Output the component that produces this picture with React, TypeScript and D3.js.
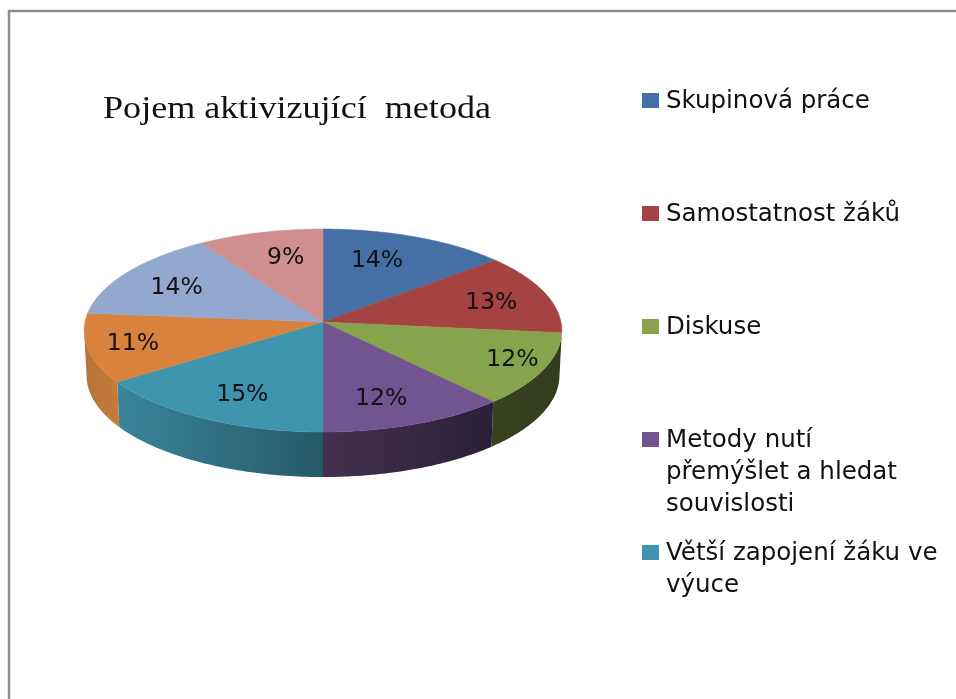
import { useRef, useEffect } from 'react';
import * as d3 from 'd3';

const shares = [13.8, 12.9, 11.6, 11.7, 15.4, 11.0, 14.4, 9.2];
const shareLabels = ['14%', '13%', '12%', '12%', '15%', '11%', '14%', '9%'];
const topColors = ['#4570a6', '#a54342', '#87a44c', '#725490', '#3f95ae', '#d8823d', '#93a8cf', '#cf8f8f'];
const wallLeft = ['#000', '#000', '#38421f', '#44304f', '#3a8599', '#b5743a', '#000', '#000'];
const wallRight = ['#000', '#000', '#333d1e', '#2a2038', '#265a68', '#c67c3a', '#000', '#000'];
const legendLines = [
  ['Skupinová práce'],
  ['Samostatnost žáků'],
  ['Diskuse'],
  ['Metody nutí', 'přemýšlet a hledat', 'souvislosti'],
  ['Větší zapojení žáku ve', 'výuce'],
];

export default function App() {
  const svgRef = useRef<SVGSVGElement>(null);

  useEffect(() => {
    const width = 956;
    const height = 699;
    const cx = 323;
    const cy = 322;
    const R = 238;
    const K = 100.8;
    const p = 0.0838; // perspective of the tilted disc
    const depth = 45;
    const wallEnd = (265 * Math.PI) / 180; // left silhouette of the disc
    // the labels don't sit on a clean radius in the original
    const labelNudge = [-16, 3, 28, -9, 6, -17, 0, 10];

    const svg = d3.select(svgRef.current);
    svg.selectAll('*').remove();

    // page frame, open to the right and at the bottom
    svg.append('path')
      .attr('d', `M9,${height} V11 H${width}`)
      .attr('fill', 'none')
      .attr('stroke', '#8c8c8c')
      .attr('stroke-width', 2.5);

    const project = (theta: number, r = 1, drop = 0) => {
      const u = r * Math.sin(theta);
      const v = -r * Math.cos(theta);
      const w = 1 - p * v;
      const shrink = drop ? 0.99 : 1;
      return [cx + (R * shrink * u) / w, cy + (K * v) / w + drop] as [number, number];
    };

    const arcs = d3.pie<number>().sort(null)(shares);
    const line = d3.line();
    const rim = (a0: number, a1: number, drop = 0) =>
      d3.range(0, 61).map(i => project(a0 + ((a1 - a0) * i) / 60, 1, drop));

    const defs = svg.append('defs');
    arcs.forEach((d, i) => {
      const g = defs.append('linearGradient').attr('id', `wall${i}`);
      g.append('stop').attr('offset', 0).attr('stop-color', wallLeft[i]);
      g.append('stop').attr('offset', 1).attr('stop-color', wallRight[i]);
    });

    // front walls first, top faces over them
    arcs.forEach((d, i) => {
      const mid = (d.startAngle + d.endAngle) / 2;
      if (mid < Math.PI / 2 || mid > (3 * Math.PI) / 2) return;
      const end = Math.min(d.endAngle, wallEnd);
      const pts = [...rim(d.startAngle, end), ...rim(d.startAngle, end, depth).reverse()];
      svg.append('path')
        .attr('d', line(pts) + 'Z')
        .attr('fill', `url(#wall${i})`);
    });

    arcs.forEach((d, i) => {
      const pts: [number, number][] = [[cx, cy], ...rim(d.startAngle, d.endAngle)];
      svg.append('path')
        .attr('d', line(pts) + 'Z')
        .attr('fill', topColors[i])
        .attr('stroke', topColors[i])
        .attr('stroke-width', 0.5);
    });

    arcs.forEach((d, i) => {
      const mid = (d.startAngle + d.endAngle) / 2;
      const [x, y] = project(mid, 0.74);
      svg.append('text')
        .attr('x', x + labelNudge[i])
        .attr('y', y + 9)
        .attr('text-anchor', 'middle')
        .attr('font-family', '"DejaVu Sans", sans-serif')
        .attr('font-size', 23.5)
        .attr('fill', '#111')
        .text(shareLabels[i]);
    });

    svg.append('text')
      .attr('x', 103)
      .attr('y', 118)
      .style('white-space', 'pre')
      .attr('textLength', 388)
      .attr('lengthAdjust', 'spacingAndGlyphs')
      .attr('font-family', '"Liberation Serif", serif')
      .attr('font-size', 32)
      .attr('fill', '#111')
      .text('Pojem aktivizující  metoda');

    // legend: rows sit on a fixed step, extra lines of a row hang below
    const legendY = d3.scalePoint<number>()
      .domain(d3.range(legendLines.length))
      .range([100, 552]);

    legendLines.forEach((lines, i) => {
      const y0 = legendY(i) as number;
      svg.append('rect')
        .attr('x', 642)
        .attr('y', y0 - 7)
        .attr('width', 17)
        .attr('height', 15)
        .attr('fill', topColors[i]);
      lines.forEach((t, j) => {
        svg.append('text')
          .attr('x', 666)
          .attr('y', y0 + 8 + j * 32)
          .attr('font-family', '"DejaVu Sans", sans-serif')
          .attr('font-size', 24.5)
          .attr('fill', '#111')
          .text(t);
      });
    });
  }, []);

  return (
    <svg
      ref={svgRef}
      width={956}
      height={699}
      style={{ position: 'absolute', left: 0, top: 0, background: '#fff', filter: 'blur(0.5px)' }}
    />
  );
}
